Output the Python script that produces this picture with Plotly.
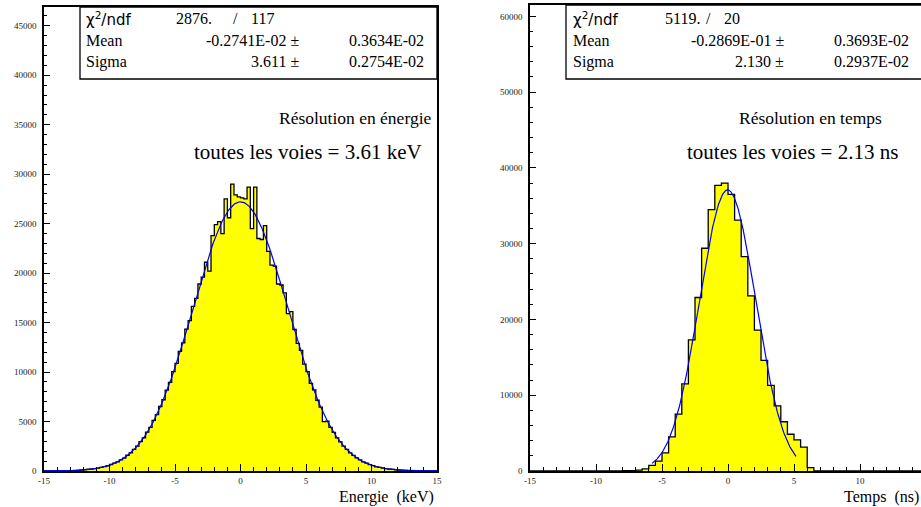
import numpy as np
import plotly.graph_objects as go

# ---------------- data ----------------
# Left histogram: energy resolution, 120 bins of 0.25 keV from -15 to 15
energy_bin_width = 0.25
energy_lo = -15.0
energy_counts = [
    5, 8, 9, 14, 16, 23, 28, 38, 45, 62, 75, 99, 120, 158, 188, 240, 290, 365, 445, 530,
    655, 790, 925, 1130, 1310, 1590, 1835, 2190, 2510, 2960, 3350, 3920, 4410, 5110, 5690, 6520, 7200, 8170, 8950, 10050,
    10880, 12100, 12950, 14350, 15200, 16650, 17450, 18900,
    19600, 21100, 20200, 23800, 24900, 25200, 24000, 27500, 25600, 29000, 27900, 27700,
    27600, 27500, 28700, 24500, 28700, 23500, 23400, 24800, 22200, 20800, 20700, 18900, 18800, 18000, 15900, 16100,
    14300, 12900, 12200, 10800, 10050, 8850, 8200, 7150, 6450, 5000, 5050, 4400, 3900, 3350, 2950, 2520, 2180, 1830,
    1580, 1320, 1130, 925, 790, 640, 540, 430, 365, 290, 240, 185, 155, 118, 99, 74, 62, 45, 38, 27, 23, 16, 14, 9, 8, 5,
]
# Right histogram: time resolution, 60 bins of 0.5 ns from -15 to 15
time_bin_width = 0.5
time_lo = -15.0
time_counts = [
    0, 0, 0, 0, 0, 0, 0, 0, 0, 0, 0, 0, 0, 0,
    30, 60, 120, 280, 750, 1300, 2400, 4500, 7500, 11500, 17300, 22900, 29400, 34500, 37700, 38000,
    36500, 33100, 28300, 23100, 18600, 14600, 11300, 8600, 6500, 4850, 4100, 3150, 450, 20,
    0, 0, 0, 0, 0, 0, 0, 0, 0, 0, 0, 0, 0, 0, 0, 0,
]

# Gaussian fit parameters (from the stat boxes; amplitude)
energy_fit = dict(amp=27200, mean=-0.2741e-2, sigma=3.611, xmin=-15.0, xmax=15.0)
time_fit = dict(amp=37100, mean=-0.2869e-1, sigma=2.130, xmin=-5.75, xmax=5.15)

x_tickvals = [-15, -10, -5, 0, 5, 10, 15]
x_ticktext = ["-15", "-10", "-5", "0", "5", "10", "15"]

energy_stats = [("χ<sup>2</sup>/ndf", "2876.", "/", "117"),
                ("Mean", "-0.2741E-02 ±", "0.3634E-02"),
                ("Sigma", "3.611 ±", "0.2754E-02")]
time_stats = [("χ<sup>2</sup>/ndf", "5119.", "/", "20"),
              ("Mean", "-0.2869E-01 ±", "0.3693E-02"),
              ("Sigma", "2.130 ±", "0.2937E-02")]

# ---------------- helpers ----------------
W, H = 921, 507
SERIF = "Liberation Serif"
SANS = "DejaVu Sans"


def px(x):
    return x / W


def py(y):
    return (H - y) / H


def step_xy(lo, width, counts):
    edges = [lo + width * i for i in range(len(counts) + 1)]
    xs = [edges[0]] + edges[:-1] + [edges[-1], edges[-1]]
    ys = [0] + list(counts) + [counts[-1], 0]
    return xs, ys


def gauss_curve(p):
    xs = np.linspace(p["xmin"], p["xmax"], 400)
    ys = p["amp"] * np.exp(-0.5 * ((xs - p["mean"]) / p["sigma"]) ** 2)
    return xs, ys


fig = go.Figure()

# Left panel
ex, ey = step_xy(energy_lo, energy_bin_width, energy_counts)
fig.add_trace(go.Scatter(x=ex, y=ey, mode="lines", line=dict(color="black", width=1.3, shape="hv"),
                         fill="tozeroy", fillcolor="#ffff00", xaxis="x", yaxis="y", showlegend=False))
fx, fy = gauss_curve(energy_fit)
fig.add_trace(go.Scatter(x=fx, y=fy, mode="lines", line=dict(color="#0000ee", width=1.2),
                         xaxis="x", yaxis="y", showlegend=False))

# Right panel
tx, ty = step_xy(time_lo, time_bin_width, time_counts)
fig.add_trace(go.Scatter(x=tx, y=ty, mode="lines", line=dict(color="black", width=1.3, shape="hv"),
                         fill="tozeroy", fillcolor="#ffff00", xaxis="x2", yaxis="y2", showlegend=False))
gx, gy = gauss_curve(time_fit)
fig.add_trace(go.Scatter(x=gx, y=gy, mode="lines", line=dict(color="#0000ee", width=1.2),
                         xaxis="x2", yaxis="y2", showlegend=False))

tickfont = dict(family=SERIF, size=9, color="#222")
xcommon = dict(tickmode="array", tickvals=x_tickvals, ticktext=x_ticktext, ticks="inside", ticklen=7,
               tickwidth=1, tickcolor="black", showline=True, linecolor="black", linewidth=1.5,
               mirror=True, showgrid=False, zeroline=False, tickfont=tickfont, automargin=False,
               minor=dict(ticks="inside", dtick=1, tick0=0, ticklen=4, tickcolor="black", showgrid=False))
ycommon = dict(ticks="inside", ticklen=6, tickwidth=1, tickcolor="black", showline=True, linecolor="black",
               linewidth=1.5, mirror=True, showgrid=False, zeroline=False, tickfont=tickfont,
               tickformat="d", ticklabelstandoff=4, automargin=False)

fig.update_layout(
    width=W, height=H, margin=dict(l=0, r=0, t=0, b=0, autoexpand=False),
    paper_bgcolor="white", plot_bgcolor="white",
    xaxis=dict(domain=[px(44), px(437)], range=[-15, 15], anchor="y", **xcommon),
    yaxis=dict(domain=[py(471), py(7)], range=[0, 46900], anchor="x", tick0=0, dtick=5000,
               minor=dict(ticks="inside", dtick=1000, tick0=0, ticklen=3, tickcolor="black", showgrid=False),
               **ycommon),
    xaxis2=dict(domain=[px(530), 1.0], range=[-15, 14.62], anchor="y2", **xcommon),
    yaxis2=dict(domain=[py(471), py(5)], range=[0, 61500], anchor="x2", tick0=0, dtick=10000,
                minor=dict(ticks="inside", dtick=2000, tick0=0, ticklen=3, tickcolor="black", showgrid=False),
                **ycommon),
)

shapes = []
annotations = []


def stat_box(x0, x1, ytop, rows, col_name, col_val_end, col_err_end, chi_val_x, slash_x, ndf_x):
    shapes.append(dict(type="rect", xref="paper", yref="paper", x0=px(x0), x1=px(x1), y0=py(79), y1=py(ytop),
                       line=dict(color="black", width=1.3), fillcolor="white", layer="above"))
    ys = [19, 41, 62]
    f = dict(family=SERIF, size=16, color="black")
    chi = rows[0]
    annotations.append(dict(x=px(col_name), y=py(ys[0]), xref="paper", yref="paper", text=chi[0],
                            xanchor="left", yanchor="middle", showarrow=False,
                            font=dict(family=SANS, size=15, color="black")))
    annotations.append(dict(x=px(chi_val_x), y=py(ys[0]), xref="paper", yref="paper", text=chi[1],
                            xanchor="left", yanchor="middle", showarrow=False, font=f))
    annotations.append(dict(x=px(slash_x), y=py(ys[0]), xref="paper", yref="paper", text=chi[2],
                            xanchor="left", yanchor="middle", showarrow=False, font=f))
    annotations.append(dict(x=px(ndf_x), y=py(ys[0]), xref="paper", yref="paper", text=chi[3],
                            xanchor="left", yanchor="middle", showarrow=False, font=f))
    for row, yy in zip(rows[1:], ys[1:]):
        annotations.append(dict(x=px(col_name), y=py(yy), xref="paper", yref="paper", text=row[0],
                                xanchor="left", yanchor="middle", showarrow=False, font=f))
        annotations.append(dict(x=px(col_val_end), y=py(yy), xref="paper", yref="paper", text=row[1],
                                xanchor="right", yanchor="middle", showarrow=False, font=f))
        annotations.append(dict(x=px(col_err_end), y=py(yy), xref="paper", yref="paper", text=row[2],
                                xanchor="right", yanchor="middle", showarrow=False, font=f))


stat_box(80, 437, 7, energy_stats, 84, 301, 426, 174, 231, 249)
stat_box(566, 930, 5, time_stats, 571, 786, 911, 663, 704, 722)

title_font = dict(family=SERIF, size=17.5, color="black")
line2_font = dict(family=SERIF, size=21, color="black")
annotations += [
    dict(x=px(277), y=py(118), text="Résolution en énergie", font=title_font),
    dict(x=px(192), y=py(152), text="toutes les voies = 3.61 keV", font=line2_font),
    dict(x=px(737), y=py(118), text="Résolution en temps", font=title_font),
    dict(x=px(685), y=py(152), text="toutes les voies = 2.13 ns", font=line2_font),
]
for a in annotations[-4:]:
    a.update(xref="paper", yref="paper", xanchor="left", yanchor="middle", showarrow=False)

axis_font = dict(family=SERIF, size=16, color="black")
annotations += [
    dict(x=px(436), y=py(497), xref="paper", yref="paper", text="Energie  (keV)", xanchor="right",
         yanchor="middle", showarrow=False, font=axis_font),
    dict(x=px(921), y=py(497), xref="paper", yref="paper", text="Temps  (ns)", xanchor="right",
         yanchor="middle", showarrow=False, font=axis_font),
]

fig.update_layout(shapes=shapes, annotations=annotations)
fig.write_html("out.html", config={"displayModeBar": False},
               post_script="document.body.style.margin='0';document.body.style.overflow='hidden';")
